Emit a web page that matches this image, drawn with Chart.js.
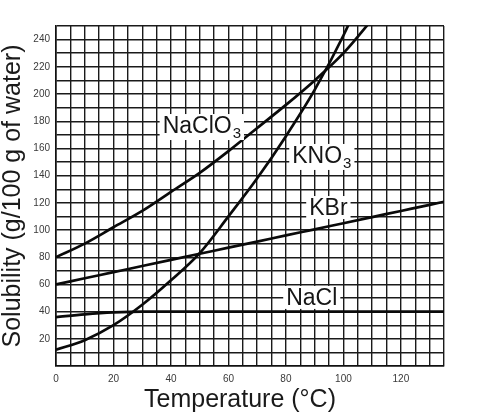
<!DOCTYPE html>
<html>
<head>
<meta charset="utf-8">
<script src="https://cdn.jsdelivr.net/npm/chart.js@4.4.1/dist/chart.umd.min.js"></script>
<style>
    html, body { margin: 0; padding: 0; background: #fff; }
    #wrap { width: 486px; height: 413px; position: relative; }
</style>
</head>
<body>
<div id="wrap"><canvas id="solubilityChart"></canvas></div>
<script>
// temperature (°C) and solubility (g / 100 g water)
var temps = [0, 10, 20, 30, 40, 50, 60, 70, 80, 90, 100, 110, 120, 130, 135];
var naclo3 = [80, 90, 102, 114, 128, 142, 158, 175, 192, 210, 230, 255, 282, null, null];
var kno3 = [12, 19, 30, 45, 63, 83, 110, 138, 169, 203, 243, 290, null, null, null];
var kbr = [60, 64.5, 69, 73.5, 78, 82.5, 87, 91.5, 96, 100.5, 105, 109.5, 114, 118.5, 120.8];
var nacl = [36, 38, 39.4, 40, 40, 40, 40, 40, 40, 40, 40, 40, 40, 40, 40];

var seriesNames = ['NaClO3', 'KNO3', 'KBr', 'NaCl'];
var xTickLabels = [0, 20, 40, 60, 80, 100, 120];
var yTickLabels = [20, 40, 60, 80, 100, 120, 140, 160, 180, 200, 220, 240];

// where the curve names sit (left edge, baseline) in data units
var curveLabels = [
    { text: 'NaClO', sub: '3', x: 37.1, y: 171.3 },
    { text: 'KNO', sub: '3', x: 82.2, y: 149.3 },
    { text: 'KBr', sub: '', x: 88.1, y: 111 },
    { text: 'NaCl', sub: '', x: 80.1, y: 44.9 }
];

var FONT = '"Liberation Sans", Arial, sans-serif';

function toPoints(values) {
    return temps.map(function (t, i) {
        return { x: t, y: values[i] };
    });
}

function makeSet(name, values) {
    return {
        label: name,
        data: toPoints(values),
        borderColor: '#0a0a0a',
        borderWidth: 2.7,
        pointRadius: 0,
        fill: false,
        cubicInterpolationMode: 'monotone',
        spanGaps: false
    };
}

var curveLabelPlugin = {
    id: 'curveLabels',
    afterDatasetsDraw: function (chart) {
        var ctx = chart.ctx;
        var xs = chart.scales.x;
        var ys = chart.scales.y;
        ctx.save();
        ctx.textBaseline = 'alphabetic';
        ctx.textAlign = 'left';
        curveLabels.forEach(function (lab) {
            var px = xs.getPixelForValue(lab.x);
            var py = ys.getPixelForValue(lab.y);
            ctx.font = '23px ' + FONT;
            var w = ctx.measureText(lab.text).width;
            ctx.font = '15px ' + FONT;
            var ws = lab.sub ? ctx.measureText(lab.sub).width + 1 : 0;
            ctx.fillStyle = '#ffffff';
            ctx.fillRect(px - 3, py - 19, w + ws + 6, lab.sub ? 26 : 23);
            ctx.fillStyle = '#151515';
            ctx.font = '23px ' + FONT;
            ctx.fillText(lab.text, px, py);
            if (lab.sub) {
                ctx.font = '15px ' + FONT;
                ctx.fillText(lab.sub, px + w + 1, py + 5);
            }
        });
        ctx.restore();
    }
};

// x axis title sits a little left of the plot centre in the original
var xTitlePlugin = {
    id: 'xTitle',
    afterDraw: function (chart) {
        var ctx = chart.ctx;
        var area = chart.chartArea;
        ctx.save();
        ctx.font = '25px ' + FONT;
        ctx.fillStyle = '#1a1a1a';
        ctx.textAlign = 'center';
        ctx.textBaseline = 'alphabetic';
        ctx.fillText('Temperature (°C)', (area.left + area.right) / 2 - 10, chart.height - 6);
        ctx.restore();
    }
};

new Chart(document.getElementById('solubilityChart').getContext('2d'), {
    type: 'line',
    data: {
        datasets: [
            makeSet(seriesNames[0], naclo3),
            makeSet(seriesNames[1], kno3),
            makeSet(seriesNames[2], kbr),
            makeSet(seriesNames[3], nacl)
        ]
    },
    options: {
        responsive: true,
        maintainAspectRatio: false,
        animation: false,
        events: [],
        layout: { padding: { top: 26, right: 42, left: 0, bottom: 0 } },
        plugins: {
            legend: { display: false },
            tooltip: { enabled: false }
        },
        scales: {
            x: {
                type: 'linear',
                min: 0,
                max: 135,
                afterFit: function (scale) { scale.height = 47; },
                afterBuildTicks: function (scale) {
                    var t = [];
                    for (var v = 0; v <= 135; v += 5) t.push({ value: v });
                    scale.ticks = t;
                },
                ticks: {
                    autoSkip: false,
                    maxRotation: 0,
                    padding: 7,
                    color: '#3a3a3a',
                    font: { family: FONT, size: 10 },
                    callback: function (value) {
                        return xTickLabels.indexOf(value) >= 0 ? String(value) : '';
                    }
                },
                grid: { color: '#1a1a1a', lineWidth: 1.4, drawTicks: false },
                border: { display: true, color: '#111', width: 1.6 }
            },
            y: {
                type: 'linear',
                min: 0,
                max: 250,
                afterFit: function (scale) { scale.width = 56; },
                afterBuildTicks: function (scale) {
                    var t = [];
                    for (var v = 0; v <= 250; v += 10) t.push({ value: v });
                    scale.ticks = t;
                },
                ticks: {
                    autoSkip: false,
                    padding: 6,
                    color: '#3a3a3a',
                    font: { family: FONT, size: 10 },
                    callback: function (value) {
                        return yTickLabels.indexOf(value) >= 0 ? String(value) : '';
                    }
                },
                grid: { color: '#1a1a1a', lineWidth: 1.4, drawTicks: false },
                border: { display: true, color: '#111', width: 1.6 },
                title: {
                    display: true,
                    text: 'Solubility (g/100 g of water)',
                    color: '#1a1a1a',
                    font: { family: FONT, size: 25, lineHeight: 1 },
                    padding: { top: 1, bottom: 0 }
                }
            }
        }
    },
    plugins: [curveLabelPlugin, xTitlePlugin]
});
</script>
</body>
</html>
